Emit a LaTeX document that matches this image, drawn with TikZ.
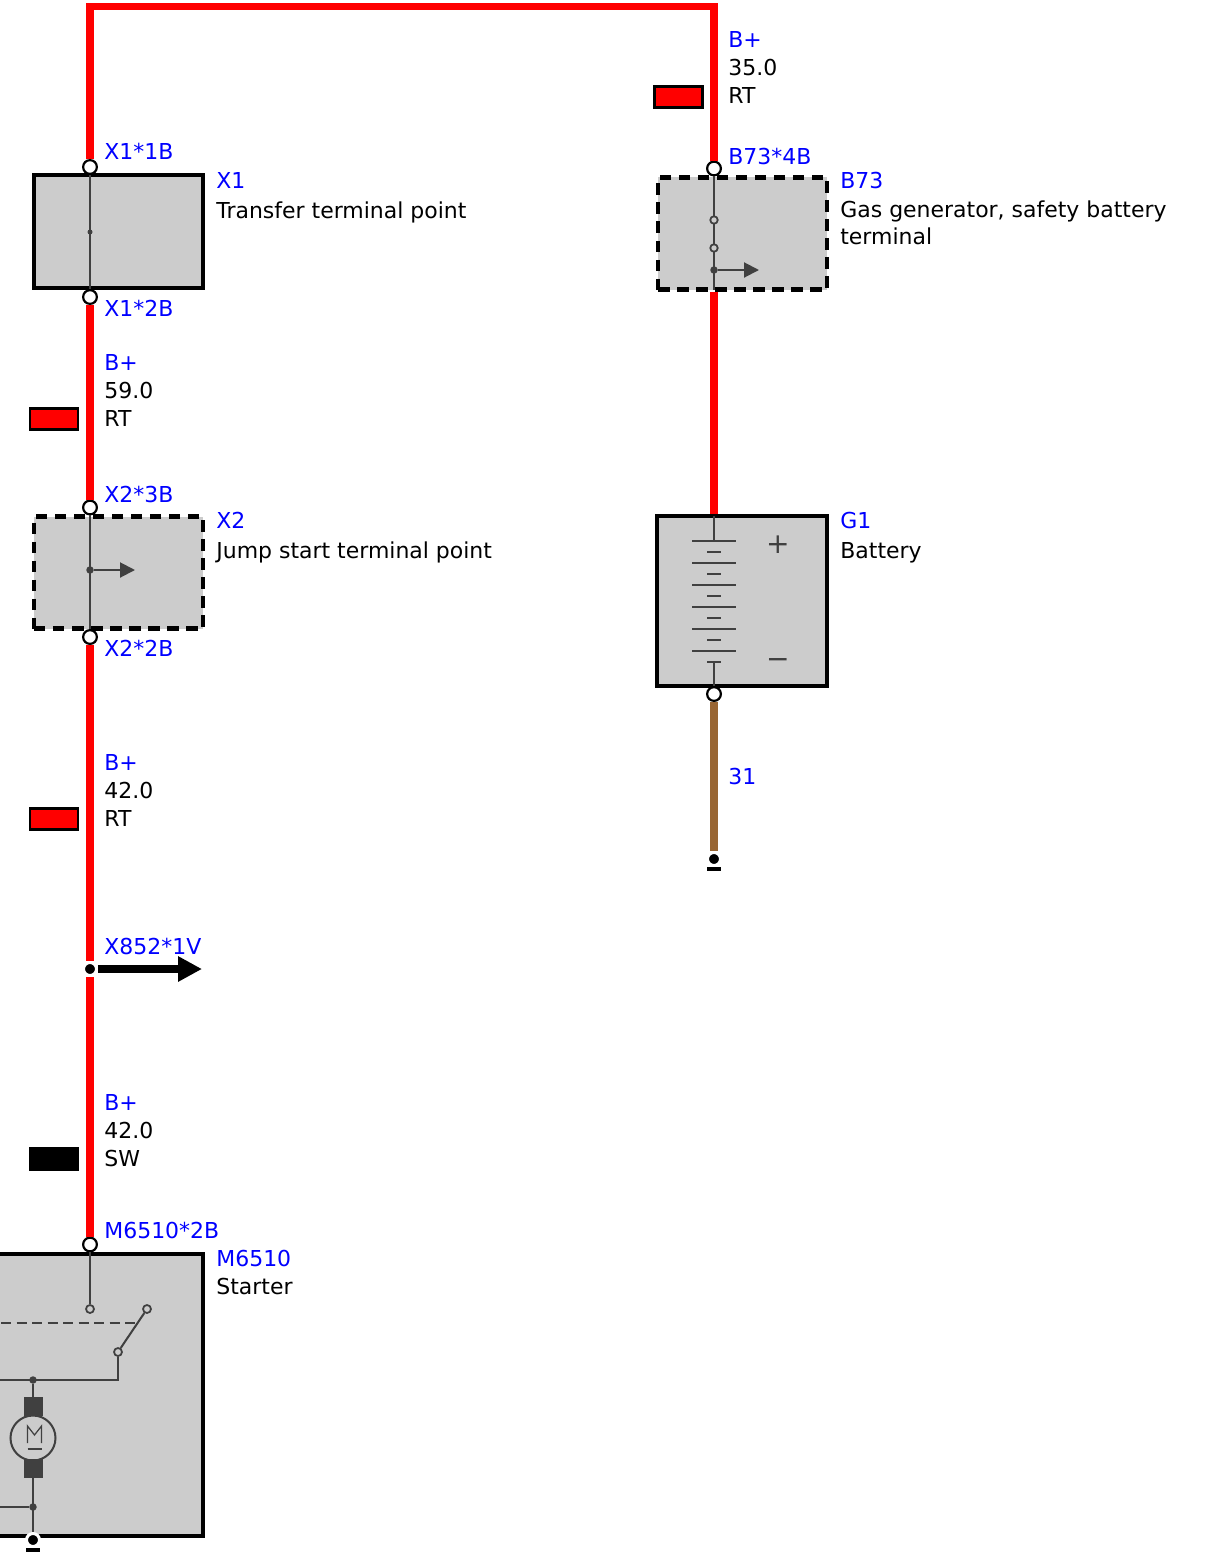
\documentclass[tikz,border=0pt]{standalone}
\usepackage{fontspec}
\setmainfont{DejaVu Sans}
\usetikzlibrary{arrows.meta}
\definecolor{wirered}{RGB}{255,0,0}
\definecolor{wirebrown}{RGB}{153,102,51}
\definecolor{boxgray}{RGB}{204,204,204}
\definecolor{innergray}{RGB}{64,64,64}
\definecolor{labelblue}{RGB}{0,0,255}
\tikzset{
  wire/.style={line width=4.1pt, wirered},
  gndwire/.style={line width=4.1pt, wirebrown},
  part/.style={draw=black, fill=boxgray, line width=2.1pt, inner sep=0pt, outer sep=0pt},
  optpart/.style={part, line width=2.3pt, dash pattern=on 2.3mm off 1.5mm},
  pin/.style={circle, draw=black, fill=white, line width=1.25pt, inner sep=0pt, minimum size=2.75mm},
  junc/.style={circle, fill=black, draw=white, line width=1.7pt, inner sep=0pt, minimum size=2.6mm},
  contact/.style={circle, draw=innergray, fill=boxgray, line width=1pt, inner sep=0pt, minimum size=1.6mm},
  tap/.style={circle, fill=innergray, inner sep=0pt, minimum size=1.5mm},
  sym/.style={innergray, line width=1.15pt},
  flow/.style={sym, -{Triangle[length=3mm, width=3mm]}},
  pinname/.style={anchor=base west, inner sep=0pt, labelblue},
  desc/.style={anchor=base west, inner sep=0pt, align=left},
  pics/wiretag/.style n args={3}{code={
    \node[pinname] (-fn) at (0,0) {B+};
    \node[desc] (-cs) at (0,28) {#1};
    \node[desc] (-col) at (0,56) {#2};
    \node[draw, fill=#3, line width=1.7pt, minimum width=9.6mm, minimum height=4.2mm, inner sep=0pt] (-sw) at (-50,49) {};
  }},
  ground/.pic={
    \node[junc] (-dot) at (0,0) {};
    \draw[line width=0.8mm] (-7,10) -- (7,10);
  }
}

\begin{document}
\begin{tikzpicture}[x=0.2mm, y=-0.2mm, font=\fontsize{12.5}{14.8}\selectfont]
\useasboundingbox (0,0) rectangle (1222,1555);
% parts
\node[part, minimum width=33.8mm, minimum height=22.6mm] (X1) at (118.5,231.5) {};
\node[optpart, minimum width=33.8mm, minimum height=22.4mm] (X2) at (118.5,572.5) {};
\node[optpart, minimum width=33.8mm, minimum height=22.4mm] (B73) at (742.5,233.5) {};
\node[part, minimum width=34mm, minimum height=34mm] (G1) at (742,601) {};
\node[part, minimum width=46.6mm, minimum height=56.4mm] (M6510) at (86.5,1395) {};

% pins
\node[pin] (X1a) at (90,167) {};
\node[pin] (X1b) at (90,297) {};
\node[pin] (X2a) at (90,507.5) {};
\node[pin] (X2b) at (90,637) {};
\node[pin] (M6510a) at (90,1244.5) {};
\node[pin] (B73a) at (714,168.5) {};
\node[pin] (G1a) at (714,694) {};
\node[junc] (X852) at (90,969) {};
\coordinate (topbend) at (400,6.5);
\pic (gndA) at (33,1540) {ground};
\pic (gndB) at (714,859) {ground};

% wires
\draw[wire] (X1a) |- (topbend) -| (B73a);
\draw[wire] (X1b) -- (X2a);
\draw[wire] (X2b) -- (X852) -- (M6510a);
\draw[wire, shorten <=1.2pt, shorten >=1.1pt] (B73.south -| B73a) -- (G1.north -| B73a);
\draw[gndwire] (G1a) -- (gndB-dot);
\draw[line width=1.6mm, -{Triangle[length=4.8mm, width=4.8mm]}] (X852) -- (202,969);

% X1, X2
\draw[sym] (X1a) -- (X1b);
\node[tap, minimum size=1mm] (X1mid) at (90,232) {};
\draw[sym] (X2a) -- (X2b);
\node[tap] (X2mid) at (90,570) {};
\draw[flow] (X2mid) -- (135,570);

% B73
\draw[sym] (B73a) -- (B73.south -| B73a);
\node[contact, minimum size=1.5mm] (B73c1) at (714,220) {};
\node[contact, minimum size=1.5mm] (B73c2) at (714,248) {};
\node[tap] (B73mid) at (714,270) {};
\draw[flow] (B73mid) -- (759,270);

% G1
\draw[sym] (G1.north -| G1a) -- (714,541);
\foreach \y in {541,563,...,651}
  \draw[innergray, line width=0.9pt] (692,\y) -- (736,\y);
\foreach \y in {552,574,...,662}
  \draw[innergray, line width=1.2pt] (707,\y) -- (721,\y);
\draw[sym] (714,662) -- (G1a);
\node[innergray, inner sep=0pt, font=\fontsize{16}{16}\selectfont] (G1plus) at (778,545) {+};
\node[innergray, inner sep=0pt, font=\fontsize{16}{16}\selectfont] (G1minus) at (778,664) {−};

% M6510
\node[contact] (S1) at (90,1309) {};
\node[contact] (S2) at (147,1309) {};
\node[contact] (S3) at (118,1352) {};
\draw[sym] (M6510a) -- (S1);
\draw[sym] (S3) -- (S2);
\draw[sym, dash pattern=on 2mm off 1.1mm] (-30,1323) -- (138,1323);
\draw[sym] (S3) |- (-30,1380);
\node[tap] (Mtop) at (33,1380) {};
\draw[sym] (Mtop) -- (33,1397);
\fill[innergray] (24,1397) rectangle (43,1416);
\fill[innergray] (24,1459) rectangle (43,1478);
\node[circle, draw=innergray, line width=1.15pt, minimum size=9mm, inner sep=0pt] (motor) at (33,1438) {};
\draw[innergray, line width=0.7pt] (27.5,1443) -- (27.5,1426) -- (34.5,1435) -- (41.5,1426) -- (41.5,1443);
\draw[innergray, line width=0.7pt] (27.5,1449) -- (41.5,1449);
\draw[sym] (33,1478) -- (gndA-dot);
\node[tap] (Mbot) at (33,1507) {};
\draw[sym] (-30,1507) -- (Mbot);

% labels
\node[pinname] (X1aname) at (104,160) {X1*1B};
\node[pinname] (X1name) at (216,188) {X1};
\node[desc] (X1desc) at (216,218) {Transfer terminal point};
\node[pinname] (X1bname) at (104,316) {X1*2B};
\pic (tagA) at (104,370) {wiretag={59.0}{RT}{wirered}};
\node[pinname] (X2aname) at (104,502) {X2*3B};
\node[pinname] (X2name) at (216,528) {X2};
\node[desc] (X2desc) at (216,558) {Jump start terminal point};
\node[pinname] (X2bname) at (104,656) {X2*2B};
\pic (tagB) at (104,770) {wiretag={42.0}{RT}{wirered}};
\node[pinname] (X852name) at (104,954) {X852*1V};
\pic (tagC) at (104,1110) {wiretag={42.0}{SW}{black}};
\node[pinname] (M6510aname) at (104,1238) {M6510*2B};
\node[pinname] (M6510name) at (216,1266) {M6510};
\node[desc] (M6510desc) at (216,1294) {Starter};
\pic (tagD) at (728,48) {wiretag={35.0}{RT}{wirered}};
\node[pinname] (B73aname) at (728,164) {B73*4B};
\node[pinname] (B73name) at (840,188) {B73};
\node[desc] (B73desc) at (840,244) {Gas generator, safety battery\\terminal};
\node[pinname] (G1name) at (840,528) {G1};
\node[desc] (G1desc) at (840,558) {Battery};
\node[pinname] (G1aname) at (728,784) {31};
\end{tikzpicture}
\end{document}
